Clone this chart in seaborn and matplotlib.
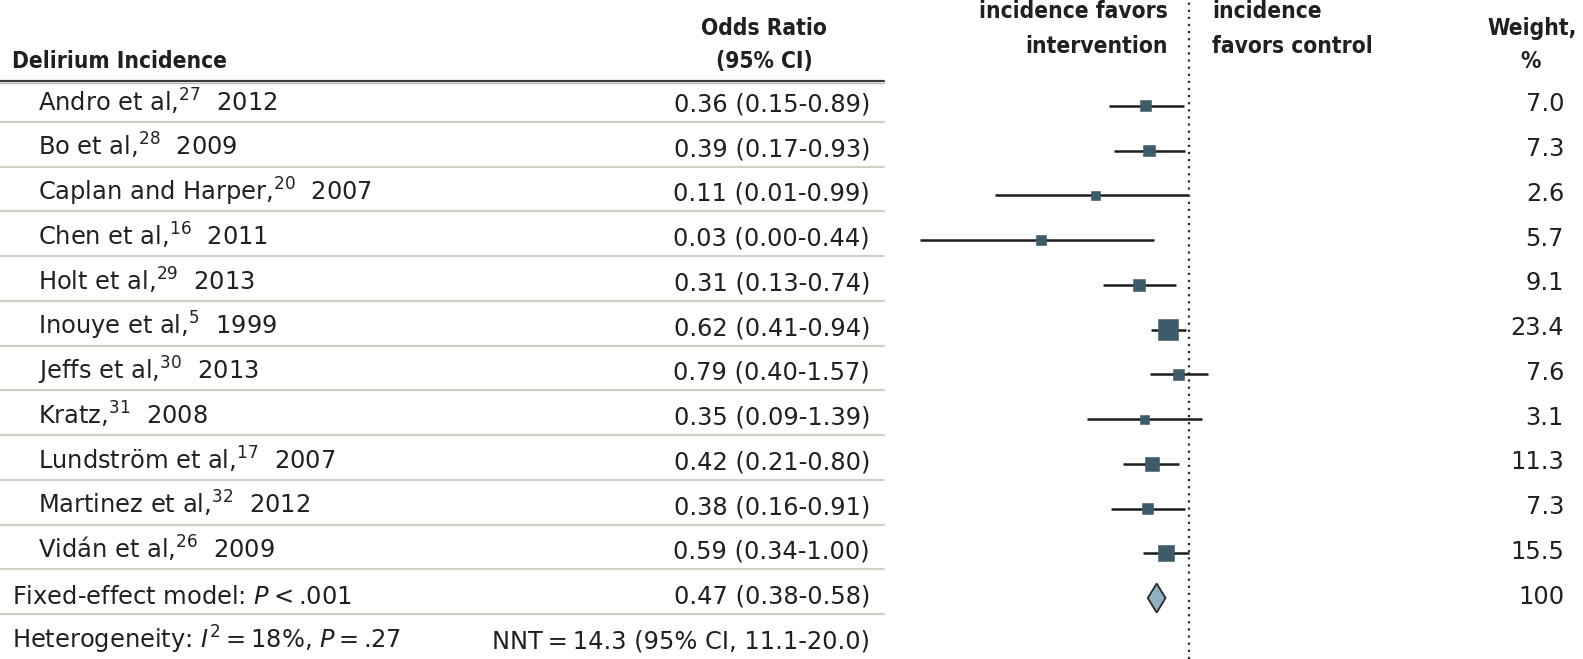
import numpy as np
import pandas as pd
import matplotlib
matplotlib.use("Agg")
import matplotlib.pyplot as plt
import matplotlib.transforms as mtransforms
from matplotlib import font_manager as fm
import seaborn as sns

# ---------------- data ----------------
studies = ["Andro et al,", "Bo et al,", "Caplan and Harper,", "Chen et al,", "Holt et al,",
           "Inouye et al,", "Jeffs et al,", "Kratz,", "Lundström et al,", "Martinez et al,",
           "Vidán et al,"]
refs = ["27", "28", "20", "16", "29", "5", "30", "31", "17", "32", "26"]
years = ["2012", "2009", "2007", "2011", "2013", "1999", "2013", "2008", "2007", "2012", "2009"]
odds = [0.36, 0.39, 0.11, 0.03, 0.31, 0.62, 0.79, 0.35, 0.42, 0.38, 0.59]
ci_low = [0.15, 0.17, 0.01, 0.0017, 0.13, 0.41, 0.40, 0.09, 0.21, 0.16, 0.34]
ci_high = [0.89, 0.93, 0.99, 0.44, 0.74, 0.94, 1.57, 1.39, 0.80, 0.91, 1.00]
weights = [7.0, 7.3, 2.6, 5.7, 9.1, 23.4, 7.6, 3.1, 11.3, 7.3, 15.5]

pooled_or = 0.47
pooled_low = 0.38
pooled_high = 0.58
pooled_weight = 100

fixed_label = "Fixed-effect model: $\\mathit{P}$\u2009<\u2009.001"
het_label = "Heterogeneity: $\\mathit{I}^{2}$\u2009=\u200918%, $\\mathit{P}$\u2009=\u2009.27"
nnt_label = "NNT\u2009=\u200914.3 (95% CI, 11.1-20.0)"

# ---------------- style ----------------
sns.set_style("white")
plt.rcParams["font.family"] = ["DejaVu Sans"]
plt.rcParams["mathtext.fontset"] = "dejavusans"

has_cond = any(f.name == "DejaVu Sans" and str(f.stretch) == "condensed"
               and f.weight in (700, "bold") for f in fm.fontManager.ttflist)
if has_cond:
    HSTRETCH, FSH = "condensed", 16.3
else:
    HSTRETCH, FSH = "normal", 14.6

W, H = 1583, 659
TXT = "#231f20"
SQ = "#3d5b69"
FS = 17.4

row_px0 = 105.8      # pixel centre of first row
row_step = 44.75     # pixels per row
ref_px = 1188.5      # pixel of OR = 1
px_decade = 97.0     # pixels per decade


def px2y(p):
    return (p - row_px0) / row_step


df = pd.DataFrame({"study": studies, "ref": refs, "year": years, "odds": odds,
                   "lo": ci_low, "hi": ci_high, "weight": weights})
df["row"] = np.arange(len(df))
side_px = (6.6 + 0.49 * df["weight"]) * 1.12
df["msize"] = (side_px * 72 / 100) ** 2
pooled_row = len(df)
het_row = len(df) + 1

fig = plt.figure(figsize=(W / 100, H / 100), dpi=100)
ax = fig.add_axes([0, 0, 1, 1])
ax.set_xscale("log")
ax.set_xlim(10 ** (-ref_px / px_decade), 10 ** ((W - ref_px) / px_decade))
ax.set_ylim(px2y(H), px2y(0))

# reference line
ax.axvline(1, color="#2b2b2b", lw=1.6, ls=(0, (1, 2.2)), zorder=1)

# CIs and squares
ax.hlines(df["row"], df["lo"], df["hi"], color="#1c1c1c", lw=1.8, zorder=2)
sns.scatterplot(data=df, x="odds", y="row", marker="s", s=df["msize"].values,
                color=SQ, edgecolor=SQ, linewidth=0.4, ax=ax, zorder=3, legend=False)

# pooled diamond
h = 14.5 / row_step
ax.fill([pooled_low, pooled_or, pooled_high, pooled_or],
        [pooled_row, pooled_row - h, pooled_row, pooled_row + h],
        facecolor="#8fb1c2", edgecolor="#2a2a2a", lw=1.3, zorder=3)

# table lines
xmax_line = 884 / W
ax.axhline(px2y(81), xmin=0, xmax=xmax_line, color="#3a3a3a", lw=1.6, zorder=1)
ax.axhline(px2y(83.5), xmin=0, xmax=xmax_line, color="#bdb9ae", lw=1.0, zorder=1)
for k in range(het_row):
    ax.axhline(k + 16 / row_step, xmin=0, xmax=xmax_line, color="#d3cfc4", lw=1.5, zorder=1)

trans = mtransforms.blended_transform_factory(ax.transAxes, ax.transData)


def fx(p):
    return p / W


base = 5.5 / row_step
for _, r in df.iterrows():
    y = r["row"] + base
    ax.text(fx(38), y, f"{r['study']}$^{{{r['ref']}}}$  {r['year']}", transform=trans,
            ha="left", va="baseline", fontsize=FS, color=TXT)
    ax.text(fx(870), y, f"{r['odds']:.2f} ({r['lo']:.2f}-{r['hi']:.2f})", transform=trans,
            ha="right", va="baseline", fontsize=FS, color=TXT)
    ax.text(fx(1564), y, f"{r['weight']:.1f}", transform=trans,
            ha="right", va="baseline", fontsize=FS, color=TXT)

y = pooled_row + base
ax.text(fx(12), y, fixed_label, transform=trans, ha="left", va="baseline", fontsize=FS, color=TXT)
ax.text(fx(870), y, f"{pooled_or:.2f} ({pooled_low:.2f}-{pooled_high:.2f})", transform=trans,
        ha="right", va="baseline", fontsize=FS, color=TXT)
ax.text(fx(1564), y, f"{pooled_weight}", transform=trans, ha="right", va="baseline",
        fontsize=FS, color=TXT)
y = het_row + base
ax.text(fx(12), y, het_label, transform=trans, ha="left", va="baseline", fontsize=FS, color=TXT)
ax.text(fx(870), y, nnt_label, transform=trans, ha="right", va="baseline", fontsize=FS, color=TXT)

# headers
hkw = dict(transform=trans, va="baseline", fontsize=FSH, fontweight="bold",
           fontstretch=HSTRETCH, color=TXT)
hb1, hb2 = px2y(35), px2y(68)
ax.text(fx(12), hb2, "Delirium Incidence", ha="left", **hkw)
ax.text(fx(764), hb1, "Odds Ratio", ha="center", **hkw)
ax.text(fx(764), hb2, "(95% CI)", ha="center", **hkw)
ax.text(fx(1577), hb1, "Weight,", ha="right", **hkw)
ax.text(fx(1531), hb2, "%", ha="center", **hkw)
tb1, tb2 = px2y(18), px2y(53)
ax.text(fx(1168), tb1, "incidence favors", ha="right", **hkw)
ax.text(fx(1168), tb2, "intervention", ha="right", **hkw)
ax.text(fx(1212), tb1, "incidence", ha="left", **hkw)
ax.text(fx(1212), tb2, "favors control", ha="left", **hkw)

ax.set_axis_off()
fig.savefig("out.png", dpi=100)
